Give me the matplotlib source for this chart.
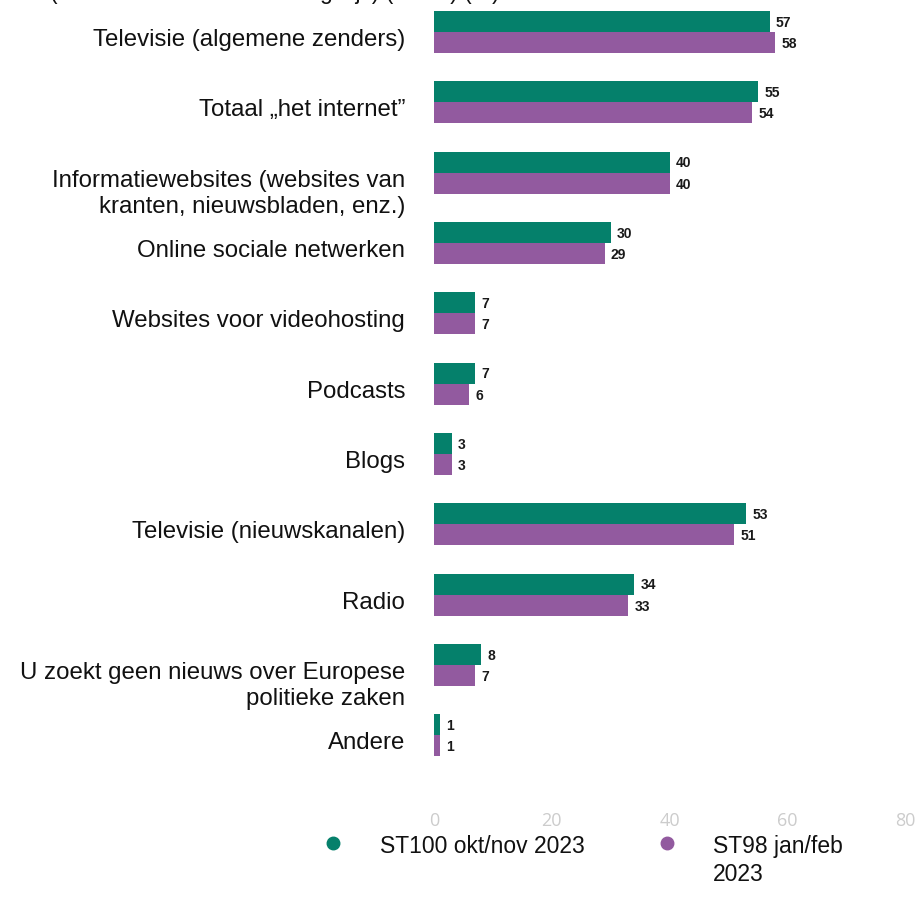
import matplotlib

matplotlib.use("Agg")
import matplotlib.pyplot as plt
import numpy as np
from matplotlib.lines import Line2D
from matplotlib.transforms import blended_transform_factory, offset_copy

categories = [
    "Televisie (algemene zenders)",
    "Totaal \u201ehet internet\u201d",
    "Informatiewebsites (websites van\nkranten, nieuwsbladen, enz.)",
    "Online sociale netwerken",
    "Websites voor videohosting",
    "Podcasts",
    "Blogs",
    "Televisie (nieuwskanalen)",
    "Radio",
    "U zoekt geen nieuws over Europese\npolitieke zaken",
    "Andere",
]
st100 = [57, 55, 40, 30, 7, 7, 3, 53, 34, 8, 1]
st98 = [58, 54, 40, 29, 7, 6, 3, 51, 33, 7, 1]
series_names = ["ST100 okt/nov 2023", "ST98 jan/feb\n2023"]
xticks = [0, 20, 40, 60, 80]

GREEN = "#05806b"
PURPLE = "#925a9f"

plt.rcParams["font.family"] = ["Liberation Sans", "DejaVu Sans"]

W, H = 921, 913
fig = plt.figure(figsize=(W / 100, H / 100), dpi=100)
ax = fig.add_axes([434 / W, 1 - 800 / H, 471 / W, 800 / H])

y = np.arange(len(categories))
h = 0.3
ax.barh(y - h / 2, st100, height=h, color=GREEN)
ax.barh(y + h / 2, st98, height=h, color=PURPLE)

for vals, dy in ((st100, -h / 2), (st98, h / 2)):
    for yi, v in zip(y, vals):
        ax.annotate(str(v), (v, yi + dy), xytext=(4.5, -1), textcoords="offset points",
                    va="center", ha="left", fontsize=10, fontweight="bold",
                    color="#1a1a1a")

# category labels, right-aligned left of the axis, one text per line
base = blended_transform_factory(ax.transAxes, ax.transData)
for yi, lab in zip(y, categories):
    for k, line in enumerate(lab.split("\n")):
        tr = offset_copy(base, fig=fig, x=0, y=-(8 + 26 * k), units="dots")
        ax.text(-29 / 471, yi, line, transform=tr, ha="right", va="center",
                fontsize=17.3, color="#111111")

ax.set_xlim(0, 80)
ax.set_ylim(10.92, -0.455)
ax.set_xticks(xticks)
ax.set_yticks([])
ax.tick_params(axis="x", length=0, pad=9, labelsize=13, labelcolor="#cccccc")
for lbl in ax.get_xticklabels():
    lbl.set_family("Open Sans")
for s in ax.spines.values():
    s.set_visible(False)

# cut-off title at the very top: only its lowest strokes show
fig.text(50 / W, 1 + 1 / H, "(meerdere antwoorden mogelijk) (EU27) (%)",
         ha="left", va="baseline", fontsize=16.5, color="#111111")

# legend drawn by hand
fig.add_artist(Line2D([333 / W], [1 - 843 / H], marker="o", markersize=9,
                      color=GREEN, transform=fig.transFigure))
fig.add_artist(Line2D([667 / W], [1 - 843 / H], marker="o", markersize=9,
                      color=PURPLE, transform=fig.transFigure))
fig.text(380 / W, 1 - 846 / H, series_names[0], ha="left", va="center",
         fontsize=16.5, color="#111111")
for k, line in enumerate(series_names[1].split("\n")):
    fig.text(713 / W, 1 - (846 + 28 * k) / H, line, ha="left", va="center",
             fontsize=16.5, color="#111111")

fig.savefig("out.png", dpi=100)
